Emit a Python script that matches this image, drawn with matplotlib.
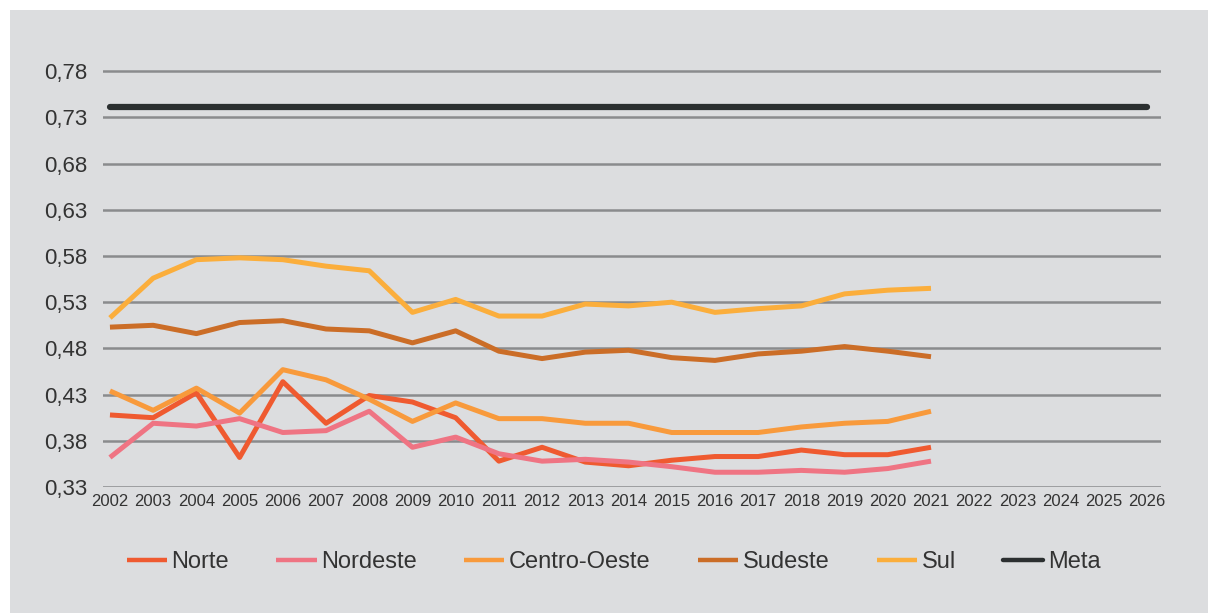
import numpy as np
import matplotlib.pyplot as plt
from matplotlib.patches import Rectangle

# anos e valores
anos = list(range(2002, 2022))
anos_eixo = list(range(2002, 2027))

norte = [0.408, 0.405, 0.432, 0.362, 0.444, 0.399, 0.429, 0.422, 0.405, 0.358,
         0.373, 0.357, 0.353, 0.359, 0.363, 0.363, 0.370, 0.365, 0.365, 0.373]
nordeste = [0.362, 0.399, 0.396, 0.404, 0.389, 0.391, 0.412, 0.373, 0.384, 0.366,
            0.358, 0.360, 0.357, 0.352, 0.346, 0.346, 0.348, 0.346, 0.350, 0.358]
centro_oeste = [0.434, 0.413, 0.437, 0.410, 0.457, 0.446, 0.425, 0.401, 0.421, 0.404,
                0.404, 0.399, 0.399, 0.389, 0.389, 0.389, 0.395, 0.399, 0.401, 0.412]
sudeste = [0.503, 0.505, 0.496, 0.508, 0.510, 0.501, 0.499, 0.486, 0.499, 0.477,
           0.469, 0.476, 0.478, 0.470, 0.467, 0.474, 0.477, 0.482, 0.477, 0.471]
sul = [0.513, 0.556, 0.576, 0.578, 0.576, 0.569, 0.564, 0.519, 0.533, 0.515,
       0.515, 0.528, 0.526, 0.530, 0.519, 0.523, 0.526, 0.539, 0.543, 0.545]
meta = [0.741] * len(anos_eixo)

y_ticks = [0.33, 0.38, 0.43, 0.48, 0.53, 0.58, 0.63, 0.68, 0.73, 0.78]
y_labels = ['0,33', '0,38', '0,43', '0,48', '0,53', '0,58', '0,63', '0,68', '0,73', '0,78']

series = [
    ('Norte', norte, '#ef5a30'),
    ('Nordeste', nordeste, '#ef7483'),
    ('Centro-Oeste', centro_oeste, '#f89a3c'),
    ('Sudeste', sudeste, '#cb6d27'),
    ('Sul', sul, '#fbae3c'),
]

plt.rcParams['font.family'] = ['Liberation Sans', 'DejaVu Sans']

bg = '#dcdddf'
fig = plt.figure(figsize=(12.08, 6.13), dpi=100, facecolor='white')
fig.patches.append(Rectangle((10 / 1208, 0), 1, 603 / 613, transform=fig.transFigure,
                             facecolor=bg, edgecolor='none', zorder=-10))

ax = fig.add_axes([0.0853, 0.2055, 0.8757, 0.6935])
ax.set_facecolor(bg)
ax.patch.set_alpha(0)

for nome, vals, cor in series:
    ax.plot(anos, vals, color=cor, lw=3.6, label=nome, solid_capstyle='butt',
            solid_joinstyle='round', zorder=3)
ax.plot(anos_eixo, meta, color='#2b2f30', lw=4.5, label='Meta', solid_capstyle='round', zorder=3)

ax.set_xlim(2001.84, 2026.32)
ax.set_ylim(0.33, 0.79)
ax.set_yticks(y_ticks)
ax.set_yticklabels(y_labels, fontsize=16, color='#333333')
ax.set_xticks(anos_eixo)
ax.set_xticklabels([str(a) for a in anos_eixo], fontsize=12, color='#333333')
ax.tick_params(axis='y', length=0, pad=11)
ax.tick_params(axis='x', length=0, pad=5)
ax.grid(axis='y', color='#8a8b8d', lw=1.8, zorder=1)
ax.grid(axis='x', visible=False)
for s in ax.spines.values():
    s.set_visible(False)

leg = fig.legend(loc='center', bbox_to_anchor=(0.508, 0.083), ncol=6, frameon=False,
                 fontsize=17, handlelength=1.7, handletextpad=0.2, columnspacing=2.0,
                 labelcolor='#333333')
for h in leg.legend_handles:
    h.set_linewidth(3.2)

fig.savefig('out.png', dpi=100, facecolor='white')
